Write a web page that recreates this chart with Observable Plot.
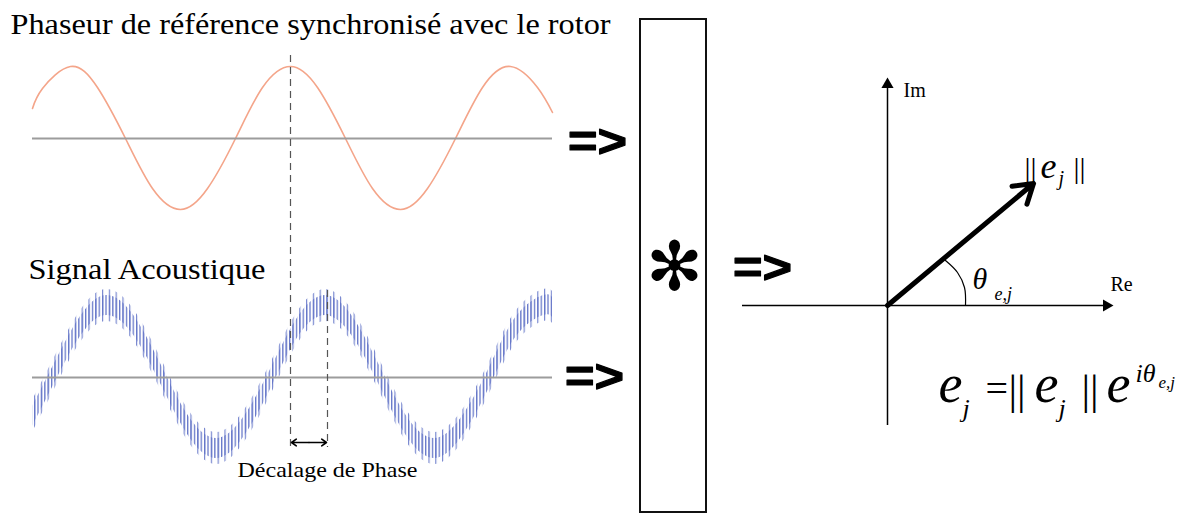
<!DOCTYPE html>
<html><head><meta charset="utf-8">
<script src="https://cdn.jsdelivr.net/npm/d3@7"></script>
<script src="https://cdn.jsdelivr.net/npm/@observablehq/plot@0.6"></script>
<style>html,body{margin:0;padding:0;background:#fff;} #chart svg{display:block}</style>
</head><body>
<svg style="position:absolute;width:0;height:0;overflow:hidden"><defs>
<pattern id="rippleDense" patternUnits="userSpaceOnUse" width="3.4" height="10"><rect x="0" y="0" width="1.3" height="10" fill="#6576c8"/></pattern>
<pattern id="rippleSparse" patternUnits="userSpaceOnUse" width="6.8" height="10"><rect x="0" y="0" width="1.2" height="10" fill="#7a89d0"/></pattern>
</defs></svg>
<div id="chart"></div>
<script>
// ---------- data ----------
// Reference phasor wave (orange): x / y in picture units
const refX = [32, 42, 70, 97, 125, 152, 180, 207, 235, 262, 290, 317, 345, 372, 400, 427, 455, 482, 510, 537, 552];
const refY = [108, 88, 66, 87, 138, 188, 209, 188, 138, 87, 66, 87, 138, 188, 209, 188, 138, 87, 66, 87, 112];
// Acoustic signal (blue), slow component centre line
const acX = [32, 52, 80, 107, 134, 162, 189, 216, 243, 271, 298, 325, 352, 380, 407, 434, 461, 489, 516, 543, 552];
const acY = [416, 377, 326, 305, 326, 377, 427, 448, 427, 377, 326, 305, 326, 377, 427, 448, 427, 377, 326, 305, 307];
// zero lines of both signals
const baselineY = [138, 377];
const waveSpan = [32, 552];
// phase-shift markers
const phaseMarkX = [290, 327];
const phaseMarkTop = [55, 290];
const phaseMarkBottom = [447, 447];
// phasor diagram
const phasorOrigin = [887, 305];
const phasorTip = [1033, 183];
const imAxis = [425, 84];      // y from, y to
const reAxis = [742, 1106];    // x from, x to
const arcX = [945, 957, 964, 965];
const arcY = [260, 272, 287, 305];

// texts
const headings = ["Phaseur de référence synchronisé avec le rotor", "Signal Acoustique"];
const shiftLabel = "Décalage de Phase";
const arrowGlyph = "=>";
const convGlyph = "✻";
const axisNames = ["Im", "Re"];
const normBar = "||";
const eSym = "e";
const jSym = "j";
const thetaSym = "θ";
const thetaSub = "e,j";
const eqSign = "=";
const expSup = "iθ";

// ---------- layout (positions / sizes) ----------
const W = 1187, H = 515;
const RIP_IN = 10, RIP_OUT = 16;
const serif = "'Liberation Serif', 'Times New Roman', Tinos, Times, serif";
const zip = (xs, ys) => xs.map((x, i) => ({x, y: ys[i]}));

const refWave = zip(refX, refY);
const acWave = zip(acX, acY);
const phaseMarks = phaseMarkX.map((x, i) => ({x, top: phaseMarkTop[i], bottom: phaseMarkBottom[i]}));
const shiftMid = (phaseMarkX[0] + phaseMarkX[1]) / 2;
const shiftArrows = [{x1: shiftMid, x2: phaseMarkX[0] + 1, y: 442}, {x1: shiftMid, x2: phaseMarkX[1] - 1, y: 442}];

const headingRows = [{x: 10, y: 33, t: headings[0]}, {x: 28, y: 278, t: headings[1]}];
const arrowRows = [{x: 597, y: 142}, {x: 594, y: 377}, {x: 762, y: 268}];
const box = [{x1: 640, x2: 706, y1: 19, y2: 512}];

const regular = (rows, size, extra = {}) => Plot.text(rows, {x: "x", y: "y", text: "t", textAnchor: "start", lineAnchor: "bottom", fontFamily: serif, fontSize: size, fill: "black", ...extra});
const italic = (rows, size) => regular(rows, size, {fontStyle: "italic"});

const chart = Plot.plot({
  width: W, height: H, margin: 0,
  x: {domain: [0, W], range: [0, W], axis: null},
  y: {domain: [0, H], range: [0, H], axis: null},
  style: {background: "white", overflow: "visible", fontFamily: serif},
  marks: [
    // acoustic signal: slow wave with high-frequency ripple texture
    Plot.areaY(acWave, {x: "x", y1: d => d.y - RIP_OUT, y2: d => d.y + RIP_OUT, curve: "natural", fill: "url(#rippleSparse)"}),
    Plot.areaY(acWave, {x: "x", y1: d => d.y - RIP_IN, y2: d => d.y + RIP_IN, curve: "natural", fill: "url(#rippleDense)"}),
    // reference wave
    Plot.line(refWave, {x: "x", y: "y", curve: "natural", stroke: "#f4a58a", strokeWidth: 1.6}),
    // zero lines
    Plot.ruleY(baselineY.map(y => ({y, x1: waveSpan[0], x2: waveSpan[1]})), {y: "y", x1: "x1", x2: "x2", stroke: "#9c9c9c", strokeWidth: 2}),
    // phase markers
    Plot.ruleX(phaseMarks, {x: "x", y1: "top", y2: "bottom", stroke: "#555", strokeWidth: 1.2, strokeDasharray: "7,5"}),
    Plot.arrow(shiftArrows, {x1: "x1", y1: "y", x2: "x2", y2: "y", stroke: "black", strokeWidth: 1.6, headLength: 6, headAngle: 70}),
    // texts left
    regular(headingRows, 30),
    regular([{x: 237, y: 476, t: shiftLabel}], 22),
    // => arrows
    Plot.text(arrowRows, {x: "x", y: "y", text: () => arrowGlyph, fontFamily: "'Liberation Sans', Arial, sans-serif", fontWeight: 900, fontSize: 46, lineAnchor: "middle", stroke: "black", strokeWidth: 1.2, fill: "black"}),
    // convolution box
    Plot.rect(box, {x1: "x1", x2: "x2", y1: "y1", y2: "y2", fill: "none", stroke: "#111", strokeWidth: 2}),
    Plot.text([{x: 674, y: 268}], {x: "x", y: "y", text: () => convGlyph, fontFamily: "'DejaVu Sans'", fontSize: 68, lineAnchor: "middle", fill: "black"}),
    // phasor axes
    Plot.ruleX([{x: phasorOrigin[0], y1: imAxis[0], y2: imAxis[1]}], {x: "x", y1: "y1", y2: "y2", stroke: "black", strokeWidth: 1.5}),
    Plot.ruleY([{y: phasorOrigin[1], x1: reAxis[0], x2: reAxis[1]}], {y: "y", x1: "x1", x2: "x2", stroke: "black", strokeWidth: 1.5}),
    Plot.dot([{x: phasorOrigin[0], y: imAxis[1], r: 0}, {x: reAxis[1], y: phasorOrigin[1], r: 90}], {x: "x", y: "y", rotate: "r", symbol: "triangle", r: 4.5, fill: "black", stroke: "none"}),
    // phasor vector
    Plot.arrow([{x1: phasorOrigin[0], y1: phasorOrigin[1], x2: phasorTip[0], y2: phasorTip[1]}], {x1: "x1", y1: "y1", x2: "x2", y2: "y2", stroke: "black", strokeWidth: 5, headLength: 6.5, headAngle: 65}),
    // angle arc
    Plot.line(zip(arcX, arcY), {x: "x", y: "y", curve: "catmull-rom", stroke: "black", strokeWidth: 1.2}),
    // axis names
    regular([{x: 903, y: 96, t: axisNames[0]}, {x: 1110, y: 290, t: axisNames[1]}], 20),
    // ||e_j|| label
    regular([{x: 1024, y: 177, t: normBar}, {x: 1073, y: 177, t: normBar}], 30),
    italic([{x: 1040, y: 177, t: eSym}], 36),
    italic([{x: 1058, y: 184, t: jSym}], 20),
    // theta label
    italic([{x: 972, y: 288, t: thetaSym}], 30),
    italic([{x: 994, y: 299, t: thetaSub}], 18),
    // formula
    italic([{x: 938, y: 401, t: eSym}, {x: 1034, y: 401, t: eSym}, {x: 1106, y: 401, t: eSym}], 54),
    italic([{x: 962, y: 416, t: jSym}, {x: 1058, y: 416, t: jSym}], 26),
    regular([{x: 985, y: 401, t: eqSign}], 40),
    regular([{x: 1008, y: 403, t: normBar}, {x: 1081, y: 403, t: normBar}], 43),
    italic([{x: 1135, y: 381, t: expSup}], 26),
    italic([{x: 1158, y: 387, t: thetaSub}], 17)
  ]
});

// fit long labels to the widths seen in the picture
const fitWidths = new Map([[headings[0], 600], [headings[1], 237], [shiftLabel, 180], [arrowGlyph, 59]]);
chart.querySelectorAll("text").forEach(t => {
  const w = fitWidths.get(t.textContent);
  if (w) { t.setAttribute("textLength", w); t.setAttribute("lengthAdjust", "spacingAndGlyphs"); }
});
document.getElementById("chart").append(chart);
</script>
</body></html>
